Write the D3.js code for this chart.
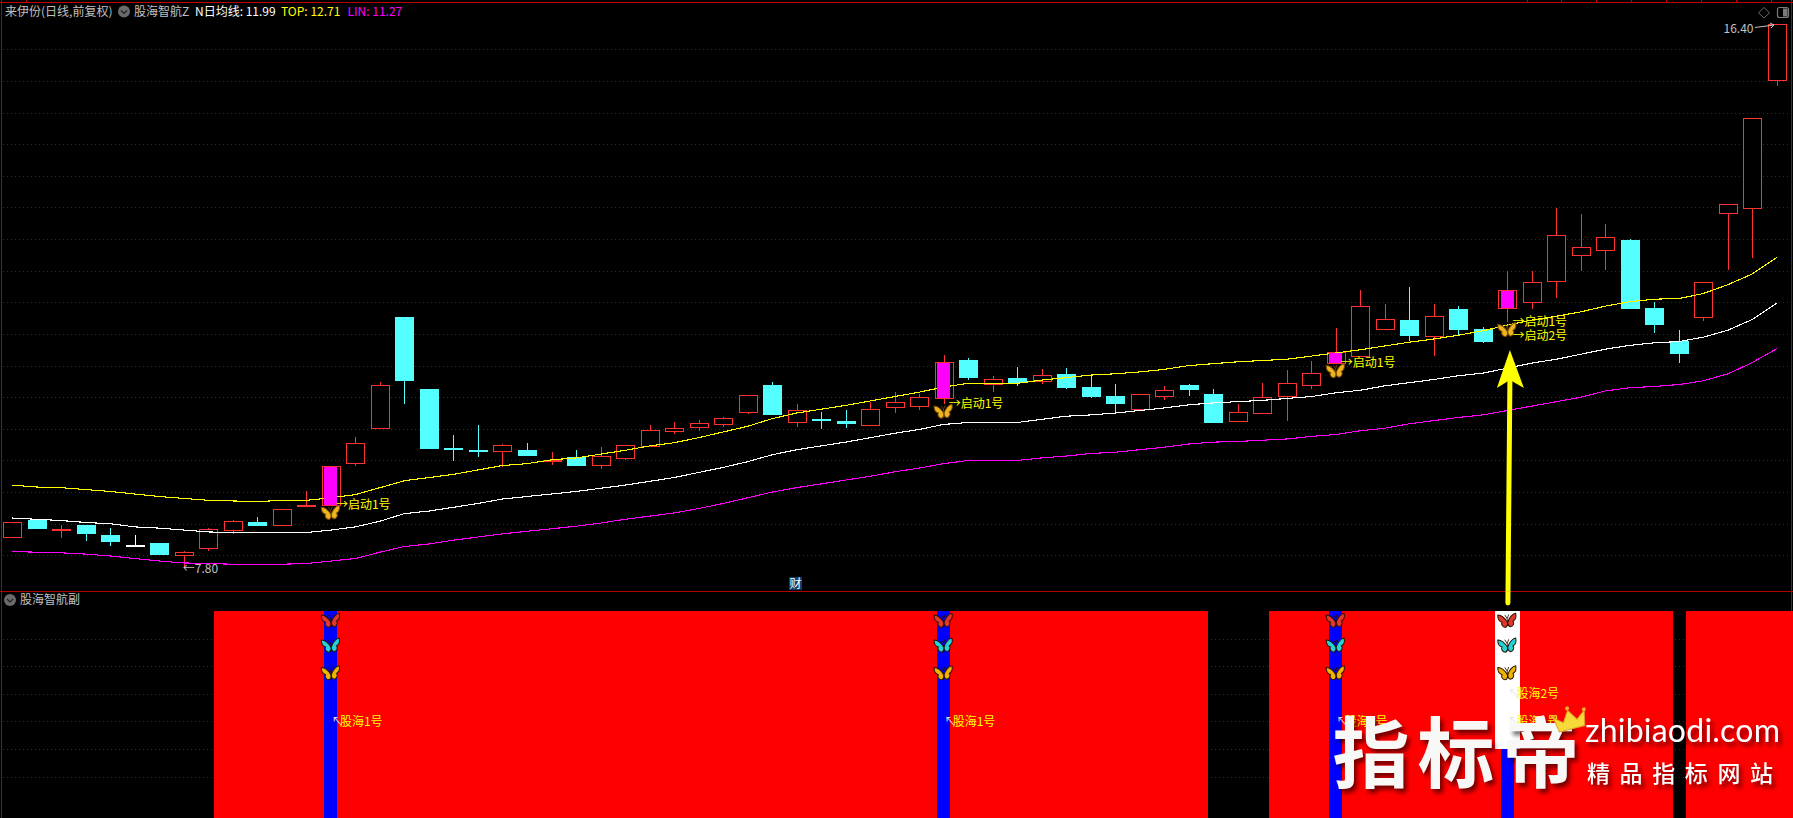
<!DOCTYPE html>
<html><head><meta charset="utf-8">
<style>
html,body{margin:0;padding:0;background:#000;overflow:hidden}
svg{display:block}
text{font-family:"Noto Sans CJK SC","Noto Sans",sans-serif;font-size:12px}
</style>
<script src="https://cdn.jsdelivr.net/npm/d3@7/dist/d3.min.js"></script>
</head><body><svg id="c" width="1793" height="818"></svg>
<script>
const openP=[8.29,8.56,8.41,8.48,8.32,8.17,8.19,8.00,8.12,8.40,
8.53,8.48,8.78,8.80,9.46,10.02,11.77,10.63,9.69,9.67,
9.64,9.67,9.50,9.55,9.42,9.54,9.73,9.98,10.03,10.08,
10.27,10.69,10.10,10.15,10.12,10.06,10.35,10.36,10.48,11.09,
10.70,10.80,10.75,10.87,10.66,10.52,10.31,10.53,10.69,10.55,
10.11,10.25,10.51,10.70,11.04,11.15,11.57,11.72,11.47,11.89,
11.58,11.91,12.00,12.34,12.75,12.82,12.98,11.91,11.39,11.77,
13.41,13.50,15.52];
const highP=[8.52,8.56,8.48,8.48,8.43,8.32,8.19,8.07,8.44,8.56,
8.61,8.73,9.02,9.42,9.87,10.74,11.77,10.63,9.90,10.06,
9.76,9.78,9.63,9.67,9.71,9.74,10.06,10.11,10.14,10.18,
10.54,10.74,10.40,10.26,10.30,10.42,10.58,10.55,11.17,11.12,
10.84,10.98,10.94,10.96,10.84,10.71,10.55,10.68,10.71,10.63,
10.39,10.72,10.93,11.07,11.59,12.19,11.97,12.24,11.98,11.94,
11.61,12.50,12.50,13.49,13.40,13.24,13.00,12.00,11.56,12.32,
13.55,14.92,16.40];
const lowP=[8.29,8.42,8.28,8.23,8.15,8.17,8.02,7.80,8.07,8.33,
8.46,8.46,8.78,8.80,9.42,10.02,10.39,9.68,9.49,9.56,
9.40,9.57,9.43,9.43,9.37,9.51,9.73,9.92,9.96,10.03,
10.23,10.23,10.03,10.00,10.01,10.04,10.25,10.30,10.40,10.77,
10.58,10.68,10.71,10.63,10.49,10.23,10.31,10.45,10.52,10.11,
10.11,10.25,10.12,10.63,11.04,11.15,11.57,11.39,11.15,11.46,
11.35,11.69,11.90,12.07,12.49,12.51,11.89,11.51,11.04,11.71,
12.51,12.70,15.42];
const closeP=[8.52,8.43,8.42,8.35,8.23,8.17,8.02,8.05,8.42,8.54,
8.49,8.73,8.80,9.42,9.77,10.70,10.77,9.70,9.67,9.65,
9.74,9.59,9.51,9.43,9.57,9.74,9.98,10.02,10.09,10.17,
10.54,10.23,10.29,10.13,10.09,10.32,10.43,10.50,11.05,10.82,
10.78,10.74,10.85,10.66,10.52,10.41,10.55,10.62,10.63,10.11,
10.26,10.51,10.72,10.89,11.22,11.94,11.73,11.48,11.79,11.58,
11.39,12.19,12.32,13.07,12.87,13.03,11.91,11.66,11.20,12.32,
13.55,14.92,16.40];
const topLine=[9.11,9.08,9.07,9.04,9.01,8.97,8.93,8.90,8.87,8.86,8.85,8.87,8.87,8.91,8.96,9.07,9.18,9.23,9.28,9.35,9.42,9.45,9.51,9.54,9.60,
9.66,9.73,9.78,9.86,9.95,10.04,10.16,10.25,10.31,10.37,10.44,10.51,10.58,10.66,10.72,10.72,10.72,10.77,10.81,10.85,10.87,10.90,10.94,11.00,
11.03,11.06,11.08,11.10,11.15,11.20,11.25,11.31,11.37,11.42,11.48,11.55,11.64,11.72,11.78,11.85,11.94,12.01,12.05,12.06,12.14,12.28,12.45,12.71];
const midLine=[8.59,8.57,8.55,8.52,8.50,8.45,8.43,8.40,8.37,8.36,8.36,8.36,8.36,8.40,8.45,8.54,8.66,8.70,8.76,8.82,8.89,8.93,8.97,9.01,9.06,
9.11,9.17,9.23,9.31,9.39,9.48,9.59,9.67,9.73,9.79,9.86,9.93,9.99,10.07,10.10,10.10,10.10,10.15,10.20,10.22,10.25,10.29,10.33,10.38,
10.41,10.43,10.45,10.48,10.51,10.57,10.61,10.68,10.73,10.78,10.84,10.88,10.96,11.04,11.10,11.18,11.26,11.32,11.36,11.38,11.45,11.56,11.73,11.99];
const linLine=[8.06,8.05,8.04,8.02,7.99,7.95,7.91,7.88,7.87,7.86,7.86,7.86,7.87,7.91,7.95,8.05,8.14,8.18,8.24,8.29,8.34,8.38,8.42,8.46,8.51,
8.57,8.62,8.67,8.74,8.82,8.91,9.00,9.07,9.13,9.19,9.25,9.32,9.38,9.45,9.50,9.50,9.50,9.54,9.57,9.61,9.63,9.67,9.71,9.76,
9.79,9.80,9.82,9.84,9.88,9.91,9.97,10.01,10.08,10.13,10.18,10.22,10.29,10.36,10.43,10.50,10.60,10.65,10.67,10.70,10.76,10.87,11.05,11.27];
const signalDays=[13,38,54,61];
const secondSignalDays=[61];
const redRuns=[[9,48],[52,67],[69,72]];
const mainGridPrices=d3.range(8,16.01,0.5);
const subGridLevels=[130,110,90,70,50,30];
const butterflyLevels=[143,125,105];
const butterflyColours=["#e2372c","#22d4d8","#eeb400"];
const headerTexts=[["来伊份(日线,前复权)",5,"#c0c0c0"],["股海智航Z",134,"#c0c0c0"],["N日均线: 11.99",195,"#ffffff"],["TOP: 12.71",281,"#ffff00"],["LIN: 11.27",347.5,"#ff00ff"]];

const svg=d3.select("#c");
const UP="#ff3232",DN="#54ffff",GRID="#960000",FRAME="#b00000";
const x=d3.scaleLinear().domain([0,72]).range([12.3,1777]);
const y=d3.scaleLinear().domain([7.80,16.40]).range([568,24]);
const sy=d3.scaleLinear().domain([0,150]).range([818,611]);
const days=d3.range(openP.length);

function hl(x1,x2,yy,c){svg.append("line").attr("x1",x1).attr("x2",x2).attr("y1",yy).attr("y2",yy).attr("stroke",c).attr("shape-rendering","crispEdges");}
function vl(xx,y1,y2,c){svg.append("line").attr("x1",xx).attr("x2",xx).attr("y1",y1).attr("y2",y2).attr("stroke",c).attr("shape-rendering","crispEdges");}

function grid(scale,vals){
  const g=svg.append("g").attr("transform","translate(3,0)")
    .call(d3.axisRight(scale).tickValues(vals).tickSize(1785).tickFormat(""));
  g.select(".domain").remove();
  g.selectAll("line").attr("stroke",GRID).attr("stroke-dasharray","1,3").attr("shape-rendering","crispEdges");
}
grid(y,mainGridPrices);
grid(sy,subGridLevels);

hl(0,1793,2.5,"#c00000");
hl(0,1793,591.5,FRAME);
vl(1.5,0,818,FRAME);
vl(1791.5,0,818,FRAME);
[25.6,1527.3,1561.3,1596.3,1631.3,1666.3,1701.3,1736.3,1771.3].forEach(t=>vl(Math.round(t)+.5,0,2,"#c00000"));

// candles
const cw=18;
const cg=svg.append("g").attr("shape-rendering","crispEdges");
const colour=i=>closeP[i]>openP[i]?UP:closeP[i]<openP[i]?DN:"#ffffff";
const snap=v=>Math.round(v)+.5;
cg.selectAll("line.hi").data(days).join("line")
  .attr("x1",i=>snap(x(i))).attr("x2",i=>snap(x(i)))
  .attr("y1",i=>y(highP[i])).attr("y2",i=>y(lowP[i]))
  .attr("stroke",colour);
cg.selectAll("rect.b").data(days).join("rect")
  .attr("x",i=>Math.round(x(i)-cw/2)+.5).attr("width",cw)
  .attr("y",i=>snap(y(Math.max(openP[i],closeP[i]))))
  .attr("height",i=>Math.max(0.5,Math.abs(y(openP[i])-y(closeP[i]))))
  .attr("fill",i=>closeP[i]>openP[i]?"#000":colour(i))
  .attr("stroke",colour);

// lines
const ln=d3.line().x((d,i)=>x(i)).y(d=>y(d));
[[topLine,"#ffff00"],[midLine,"#ffffff"],[linLine,"#ff00ff"]].forEach(([s,c])=>{
  svg.append("path").attr("d",ln(s)).attr("fill","none").attr("stroke",c).attr("stroke-width",1.1).attr("shape-rendering","crispEdges");
});

// magenta signal bodies
svg.append("g").attr("shape-rendering","crispEdges").selectAll("rect").data(signalDays).join("rect")
  .attr("x",i=>x(i)-6.5).attr("width",13)
  .attr("y",i=>y(closeP[i])+1).attr("height",i=>y(openP[i])-y(closeP[i])-1)
  .attr("fill","#ff00ff");

// butterfly
const wing="M0,2 C-2,-3 -6,-6.5 -9,-6.5 C-9.5,-2.5 -8,0 -5.5,1 C-7,3 -5.5,6 -2.5,6.5 C-1,6 0,4 0,2 C0,4 1,6 2.5,6.5 C5.5,6 7,3 5.5,1 C8,0 9.5,-2.5 9,-6.5 C6,-6.5 2,-3 0,2Z";
function butterfly(px,py,fill,stroke){
  const g=svg.append("g").attr("transform",`translate(${px},${py}) rotate(-6)`);
  g.append("path").attr("d",wing).attr("fill",fill).attr("stroke",stroke).attr("stroke-width",1);
  g.append("path").attr("d","M0,3 L0,-2 M0,-2 L-2,-6 M0,-2 L2,-6").attr("stroke",stroke).attr("fill","none").attr("stroke-width",.8);
}
signalDays.forEach(i=>butterfly(x(i),y(lowP[i])+8,"#eeb41e","#7a4a00"));

// main labels
function label(px,py,txt,fill){
  svg.append("text").attr("x",px).attr("y",py).attr("dy","0.36em").attr("fill",fill||"#ffff00").text(txt);
}
signalDays.forEach(i=>label(x(i)+5,y(lowP[i]),"→启动1号"));
secondSignalDays.forEach(i=>label(x(i)+5,y(lowP[i])+14,"→启动2号"));
label(x(7)-1,y(7.80)+1,"←7.80","#c0c0c0");
svg.append("text").attr("x",x(72)-23.5).attr("y",y(16.40)+4.5).attr("dy","0.36em").attr("text-anchor","end").attr("fill","#c0c0c0").text("16.40");
svg.append("path").attr("d",`M${x(72)-22},${y(16.40)+3.5} L${x(72)-3},${y(16.40)+1} M${x(72)-7},${y(16.40)-1} L${x(72)-3},${y(16.40)+1} L${x(72)-6},${y(16.40)+4}`).attr("stroke","#c0c0c0").attr("fill","none");

// header
headerTexts.forEach(([t,px,c])=>svg.append("text").attr("x",px).attr("y",11.5).attr("dy","0.36em").attr("fill",c).text(t));
function chevron(cx,cy){
  svg.append("circle").attr("cx",cx).attr("cy",cy).attr("r",6).attr("fill","#6a6a6a");
  svg.append("path").attr("d",`M${cx-3},${cy-1} L${cx},${cy+2} L${cx+3},${cy-1}`).attr("fill","none").attr("stroke","#222").attr("stroke-width",1.2);
}
chevron(124,11.5);
chevron(10,600);
svg.append("text").attr("x",20).attr("y",600).attr("dy","0.36em").attr("fill","#c0c0c0").text("股海智航副");

// top right icons
svg.append("path").attr("d","M1764,7.5 L1769.5,12.8 L1764,18 L1758.5,12.8Z").attr("fill","none").attr("stroke","#6e6e6e");
svg.append("rect").attr("x",1777.5).attr("y",7.5).attr("width",11).attr("height",10).attr("rx",2).attr("fill","#000").attr("stroke","#7a7a7a").attr("stroke-width",1.2);
svg.append("rect").attr("x",1783).attr("y",8.5).attr("width",4.5).attr("height",8).attr("fill","#7a7a7a");

// 财 badge
svg.append("rect").attr("x",789).attr("y",577).attr("width",13).attr("height",13).attr("fill","#0c3c6c");
svg.append("text").attr("x",795.5).attr("y",583.5).attr("dy","0.36em").attr("text-anchor","middle").attr("fill","#fff").text("财");

// sub panel sticks
const sg=svg.append("g").attr("shape-rendering","crispEdges");
sg.selectAll("rect.r").data(redRuns).join("rect")
  .attr("x",([a,b],k)=>x(a)-19+(k?1.5:0)).attr("width",([a,b],k)=>x(b)-x(a)+38-(k?1.5:0))
  .attr("y",sy(150)).attr("height",sy(0)-sy(150)).attr("fill","#ff0000");
signalDays.forEach(i=>sg.append("rect").attr("x",x(i)-6.5).attr("width",13).attr("y",sy(150)).attr("height",sy(0)-sy(150)).attr("fill","#0000ff"));
secondSignalDays.forEach(i=>sg.append("rect").attr("x",x(i)-12.5).attr("width",25).attr("y",sy(150)).attr("height",sy(50)-sy(150)).attr("fill","#ffffff"));
signalDays.forEach(i=>butterflyLevels.forEach((v,k)=>butterfly(x(i),sy(v),butterflyColours[k],"#2a1200")));
function subLabel(i,level,txt){
  const t=svg.append("text").attr("x",x(i)+0.5).attr("y",sy(level)).attr("dy","0.36em");
  t.append("tspan").attr("fill","#e8e8e8").text("↖");
  t.append("tspan").attr("fill","#ffff00").attr("dx",-3.5).text(txt);
}
signalDays.forEach(i=>subLabel(i,70,"股海1号"));
secondSignalDays.forEach(i=>subLabel(i,90,"股海2号"));

// yellow arrow annotation
const ax=x(61);
svg.append("line").attr("x1",ax+.5).attr("x2",ax+2.5).attr("y1",603).attr("y2",382).attr("stroke","#ffff00").attr("stroke-width",5).attr("stroke-linecap","round");
svg.append("path").attr("d",`M${ax+2.5},350 L${ax+16.5},388 L${ax+2.5},380 L${ax-10.5},388Z`).attr("fill","#ffff00");

// watermark
const wm=svg.append("g").style("filter","drop-shadow(3px 4px 2px rgba(0,0,0,.55))");
[["指",1371],["标",1456],["帝",1541]].forEach(([c,px])=>{
  wm.append("text").attr("x",px).attr("y",782).attr("text-anchor","middle").attr("fill","#f8f8f6")
    .style("font-size","77px").style("font-weight","700").text(c);
});
wm.append("text").attr("x",1585).attr("y",742).attr("fill","#fff").attr("textLength",195)
  .style("font-family","Lato,sans-serif").style("font-size","32px").text("zhibiaodi.com");
wm.append("text").attr("x",1587).attr("y",782).attr("fill","#fff").attr("textLength",186)
  .style("font-size","23px").style("font-weight","500").text("精品指标网站");
const cr=svg.append("g").attr("transform","translate(1570,720) rotate(-14)");
cr.append("path").attr("d","M-13,9 L-16,-6 L-7,1 L0,-10 L7,1 L16,-6 L13,9Z").attr("fill","#f7d93a").attr("stroke","#d8a520");
[[-16,-7],[0,-12],[16,-7]].forEach(([a,b])=>cr.append("circle").attr("cx",a).attr("cy",b).attr("r",2).attr("fill","#eab128"));
</script></body></html>
